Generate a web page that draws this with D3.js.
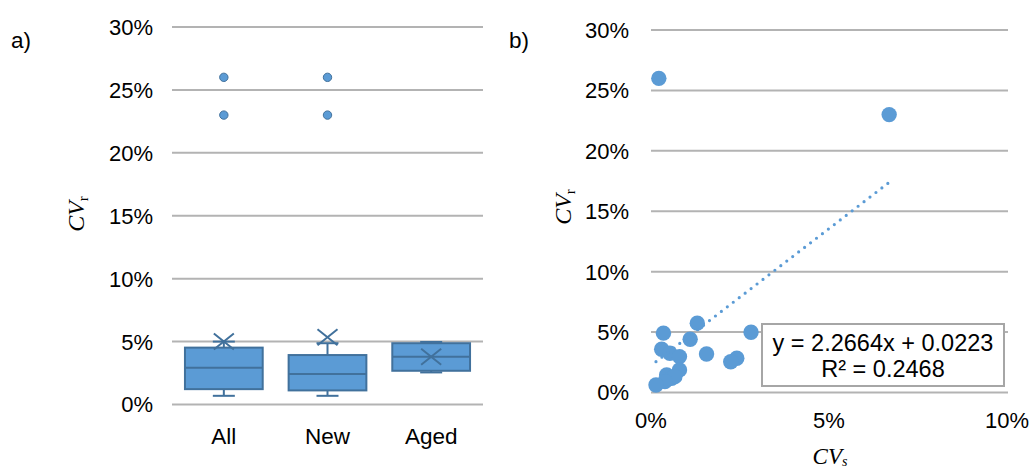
<!DOCTYPE html>
<html>
<head>
<meta charset="utf-8">
<script src="https://cdn.jsdelivr.net/npm/d3@7"></script>
<style>
  html, body { margin: 0; padding: 0; background: #fff; }
  svg { display: block; }
  .tick-label { font-family: "Liberation Sans", Arial, sans-serif; font-size: 22px; fill: #000; }
  .math { font-family: "Liberation Serif", "DejaVu Serif", serif; font-style: italic; fill: #000; }
</style>
</head>
<body>
<svg id="chart" width="1033" height="470"></svg>
<script>
// ---- Panel a: box plot of CVr by group ----
const categories = ["All", "New", "Aged"];
const whiskerLow  = [0.0069, 0.0069, 0.0255];
const q1          = [0.0122, 0.0112, 0.0268];
const median      = [0.0292, 0.0242, 0.0380];
const q3          = [0.0452, 0.0393, 0.0487];
const whiskerHigh = [0.0500, 0.0487, 0.0497];
const mean        = [0.0500, 0.0535, 0.0380];
const outliers    = [[0.23, 0.26], [0.23, 0.26], []];

// ---- Panel b: CVr against CVs ----
const cvS = [0.0022, 0.0669, 0.0130, 0.0035, 0.0281, 0.0110, 0.0030, 0.0053,
             0.0080, 0.0156, 0.0241, 0.0224, 0.0080, 0.0044, 0.0058, 0.0067,
             0.0039, 0.0014];
const cvR = [0.2600, 0.2300, 0.0574, 0.0491, 0.0499, 0.0441, 0.0358, 0.0325,
             0.0297, 0.0319, 0.0284, 0.0255, 0.0187, 0.0145, 0.0118, 0.0131,
             0.0090, 0.0062];
const trendSlope = 2.2664;
const trendIntercept = 0.0223;
const rSquared = 0.2468;

const yTicks = [0, 0.05, 0.10, 0.15, 0.20, 0.25, 0.30];
const xTicks = [0, 0.05, 0.10];

const blue = "#5b9bd5";
const darkBlue = "#41719c";
const gridColor = "#b3b3b3";
const pct = d3.format(".0%");

const svg = d3.select("#chart");

// ===== Panel a =====
const ya = d3.scaleLinear().domain([0, 0.30]).range([404.5, 27]);
const xa = d3.scaleBand().domain(categories).range([172, 483]).paddingInner(0.25).paddingOuter(0.125);

const ga = svg.append("g");
ga.selectAll("line.grid").data(yTicks).join("line")
  .attr("x1", 172).attr("x2", 483)
  .attr("y1", d => ya(d)).attr("y2", d => ya(d))
  .attr("stroke", gridColor).attr("stroke-width", 2);

ga.selectAll("text.ylab").data(yTicks).join("text")
  .attr("class", "tick-label")
  .attr("x", 153).attr("y", d => ya(d)).attr("dy", "0.36em")
  .attr("text-anchor", "end").text(d => pct(d));

ga.selectAll("text.xlab").data(categories).join("text")
  .attr("class", "tick-label")
  .attr("x", d => xa(d) + xa.bandwidth() / 2).attr("y", 444)
  .attr("text-anchor", "middle").style("font-size", "22.5px").text(d => d);

const boxes = ga.selectAll("g.box").data(categories).join("g");
boxes.each(function (c, i) {
  const g = d3.select(this);
  const x0 = xa(c), w = xa.bandwidth(), cx = x0 + w / 2, capW = 22;
  // whiskers
  g.append("line").attr("x1", cx).attr("x2", cx)
    .attr("y1", ya(q3[i])).attr("y2", ya(whiskerHigh[i]))
    .attr("stroke", darkBlue).attr("stroke-width", 2);
  g.append("line").attr("x1", cx).attr("x2", cx)
    .attr("y1", ya(q1[i])).attr("y2", ya(whiskerLow[i]))
    .attr("stroke", darkBlue).attr("stroke-width", 2);
  g.append("line").attr("x1", cx - capW / 2).attr("x2", cx + capW / 2)
    .attr("y1", ya(whiskerHigh[i])).attr("y2", ya(whiskerHigh[i]))
    .attr("stroke", darkBlue).attr("stroke-width", 2);
  g.append("line").attr("x1", cx - capW / 2).attr("x2", cx + capW / 2)
    .attr("y1", ya(whiskerLow[i])).attr("y2", ya(whiskerLow[i]))
    .attr("stroke", darkBlue).attr("stroke-width", 2);
  // box
  g.append("rect").attr("x", x0).attr("width", w)
    .attr("y", ya(q3[i])).attr("height", ya(q1[i]) - ya(q3[i]))
    .attr("fill", blue).attr("stroke", darkBlue).attr("stroke-width", 2);
  // median
  g.append("line").attr("x1", x0).attr("x2", x0 + w)
    .attr("y1", ya(median[i])).attr("y2", ya(median[i]))
    .attr("stroke", darkBlue).attr("stroke-width", 2);
  // mean marker
  const my = ya(mean[i]);
  g.append("path")
    .attr("d", `M${cx - 10},${my - 8}L${cx + 10},${my + 8}M${cx - 10},${my + 8}L${cx + 10},${my - 8}`)
    .attr("stroke", darkBlue).attr("stroke-width", 2).attr("fill", "none");
  // outliers
  g.selectAll("circle").data(outliers[i]).join("circle")
    .attr("cx", cx).attr("cy", d => ya(d)).attr("r", 4.2)
    .attr("fill", blue).attr("stroke", darkBlue).attr("stroke-width", 1);
});

// y-axis title a
const ta = ga.append("text").attr("class", "math")
  .attr("transform", "translate(84,214) rotate(-90)")
  .attr("text-anchor", "middle").style("font-size", "24px");
ta.append("tspan").text("CV");
ta.append("tspan").text("r").attr("dy", "4").style("font-style", "normal").style("font-size", "15px");

svg.append("text").attr("class", "tick-label").attr("x", 11).attr("y", 48)
  .style("font-size", "22.5px").text("a)");

// ===== Panel b =====
const xb = d3.scaleLinear().domain([0, 0.10]).range([651, 1007]);
const yb = d3.scaleLinear().domain([0, 0.30]).range([392.5, 30]);

const gb = svg.append("g");
gb.selectAll("line.grid").data(yTicks).join("line")
  .attr("x1", 651).attr("x2", 1008)
  .attr("y1", d => yb(d)).attr("y2", d => yb(d))
  .attr("stroke", gridColor).attr("stroke-width", 2);

gb.selectAll("text.ylab").data(yTicks).join("text")
  .attr("class", "tick-label")
  .attr("x", 629).attr("y", d => yb(d)).attr("dy", "0.36em")
  .attr("text-anchor", "end").text(d => pct(d));

gb.selectAll("text.xlab").data(xTicks).join("text")
  .attr("class", "tick-label")
  .attr("x", d => xb(d)).attr("y", 428)
  .attr("text-anchor", "middle").text(d => pct(d));

gb.selectAll("circle").data(cvS).join("circle")
  .attr("cx", d => xb(d)).attr("cy", (d, i) => yb(cvR[i])).attr("r", 7.7)
  .attr("fill", blue);

// linear trendline over the data range
const xMin = d3.min(cvS), xMax = d3.max(cvS);
gb.append("line")
  .attr("x1", xb(xMin)).attr("y1", yb(trendSlope * xMin + trendIntercept))
  .attr("x2", xb(xMax)).attr("y2", yb(trendSlope * xMax + trendIntercept))
  .attr("stroke", blue).attr("stroke-width", 3.2)
  .attr("stroke-linecap", "round").attr("stroke-dasharray", "0 7.5");

// equation box
gb.append("rect").attr("x", 762).attr("y", 324).attr("width", 242).attr("height", 62)
  .attr("fill", "#fff").attr("stroke", "#a6a6a6").attr("stroke-width", 2);
gb.append("text").attr("class", "tick-label").attr("x", 883).attr("y", 351)
  .attr("text-anchor", "middle").style("font-size", "23.5px")
  .text(`y = ${trendSlope}x + ${trendIntercept}`);
gb.append("text").attr("class", "tick-label").attr("x", 883).attr("y", 377)
  .attr("text-anchor", "middle").style("font-size", "23.5px")
  .text(`R² = ${rSquared}`);

const tb = gb.append("text").attr("class", "math")
  .attr("transform", "translate(571,207) rotate(-90)")
  .attr("text-anchor", "middle").style("font-size", "24px");
tb.append("tspan").text("CV");
tb.append("tspan").text("r").attr("dy", "4").style("font-style", "normal").style("font-size", "15px");

const tx = gb.append("text").attr("class", "math")
  .attr("x", 830).attr("y", 464)
  .attr("text-anchor", "middle").style("font-size", "23px");
tx.append("tspan").text("CV");
tx.append("tspan").text("s").attr("dy", "2").style("font-size", "14px");

svg.append("text").attr("class", "tick-label").attr("x", 509).attr("y", 48)
  .style("font-size", "22.5px").text("b)");
</script>
</body>
</html>
